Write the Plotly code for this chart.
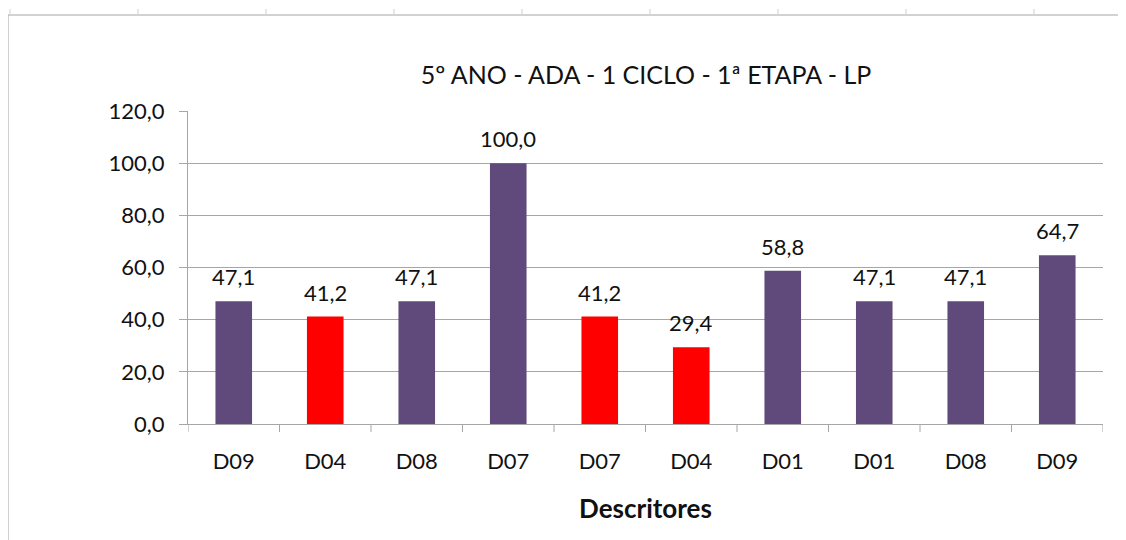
import plotly.graph_objects as go

categories = ["D09", "D04", "D08", "D07", "D07", "D04", "D01", "D01", "D08", "D09"]
values = [47.1, 41.2, 47.1, 100.0, 41.2, 29.4, 58.8, 47.1, 47.1, 64.7]
is_red = [False, True, False, False, True, True, False, False, False, False]

PURPLE = "#604A7B"
RED = "#FF0000"
TXT = "#111111"
AX = "#A6A6A6"
FONT = "Lato"
colors = [RED if r else PURPLE for r in is_red]

OFF = 8  # default page body margin
W, H = 1126 - OFF, 540 - OFF
L, R, T, B = 188 - OFF, 23, 111 - OFF, 116
pw, ph = W - L - R, H - T - B

def px(x):
    return (x - OFF - L) / pw

def py(y):
    return (H - B - (y - OFF)) / ph

fig = go.Figure()
fig.add_trace(go.Bar(
    x=list(range(len(categories))), y=values,
    marker=dict(color=colors, line=dict(width=0)),
    width=0.4, hoverinfo="y",
))

annotations = []
for i, v in enumerate(values):
    annotations.append(dict(x=i, y=v, xref="x", yref="y", text=f"{v:.1f}".replace(".", ","),
                            showarrow=False, yanchor="bottom", yshift=9,
                            font=dict(family=FONT, size=22, color=TXT)))

shapes = []
shapes.append(dict(type="line", xref="paper", yref="paper", x0=px(8), x1=px(1126 + 20), y0=py(15), y1=py(15),
                   line=dict(color=AX, width=1)))
shapes.append(dict(type="line", xref="paper", yref="paper", x0=px(8), x1=px(8), y0=py(15), y1=py(560),
                   line=dict(color=AX, width=1)))
for xt in [10, 138, 266, 394, 522, 650, 778, 906, 1034]:
    shapes.append(dict(type="line", xref="paper", yref="paper", x0=px(xt), x1=px(xt), y0=py(15), y1=py(9),
                       line=dict(color="#D0D0D0", width=1)))
for yt in [47, 87, 127, 167, 207, 247, 287, 327, 367, 407, 447, 487, 527]:
    shapes.append(dict(type="line", xref="paper", yref="paper", x0=px(4), x1=px(8), y0=py(yt), y1=py(yt),
                       line=dict(color="#D0D0D0", width=1)))
for i in range(len(categories) + 1):
    shapes.append(dict(type="line", xref="x", yref="paper", x0=i - 0.5, x1=i - 0.5, y0=0, y1=-8 / ph,
                       line=dict(color=AX, width=1)))

fig.update_layout(
    width=W, height=H,
    margin=dict(l=L, r=R, t=T, b=B),
    paper_bgcolor="white", plot_bgcolor="white",
    separators=",.",
    showlegend=False,
    title=dict(text="5º ANO - ADA - 1 CICLO - 1ª ETAPA - LP", x=(646 - OFF) / W, xanchor="center",
               y=1 - (75 - OFF) / H, yanchor="middle",
               font=dict(family=FONT, size=25, color=TXT)),
    shapes=shapes,
    annotations=annotations,
    xaxis=dict(
        tickmode="array", tickvals=list(range(len(categories))), ticktext=categories,
        range=[-0.5, len(categories) - 0.5],
        showline=True, linecolor=AX, linewidth=1,
        ticks="", showgrid=False, zeroline=False,
        ticklabelstandoff=18,
        tickfont=dict(family=FONT, size=22, color=TXT),
        title=dict(text="<b>Descritores</b>", font=dict(family=FONT, size=26, color=TXT), standoff=26),
    ),
    yaxis=dict(
        range=[0, 120], dtick=20, tickformat=".1f",
        showline=True, linecolor=AX, linewidth=1,
        ticks="outside", ticklen=8, tickcolor=AX,
        ticklabelstandoff=10,
        showgrid=True, gridcolor=AX, gridwidth=1, zeroline=False,
        tickfont=dict(family=FONT, size=22, color=TXT),
    ),
)

fig.write_html("out.html")
